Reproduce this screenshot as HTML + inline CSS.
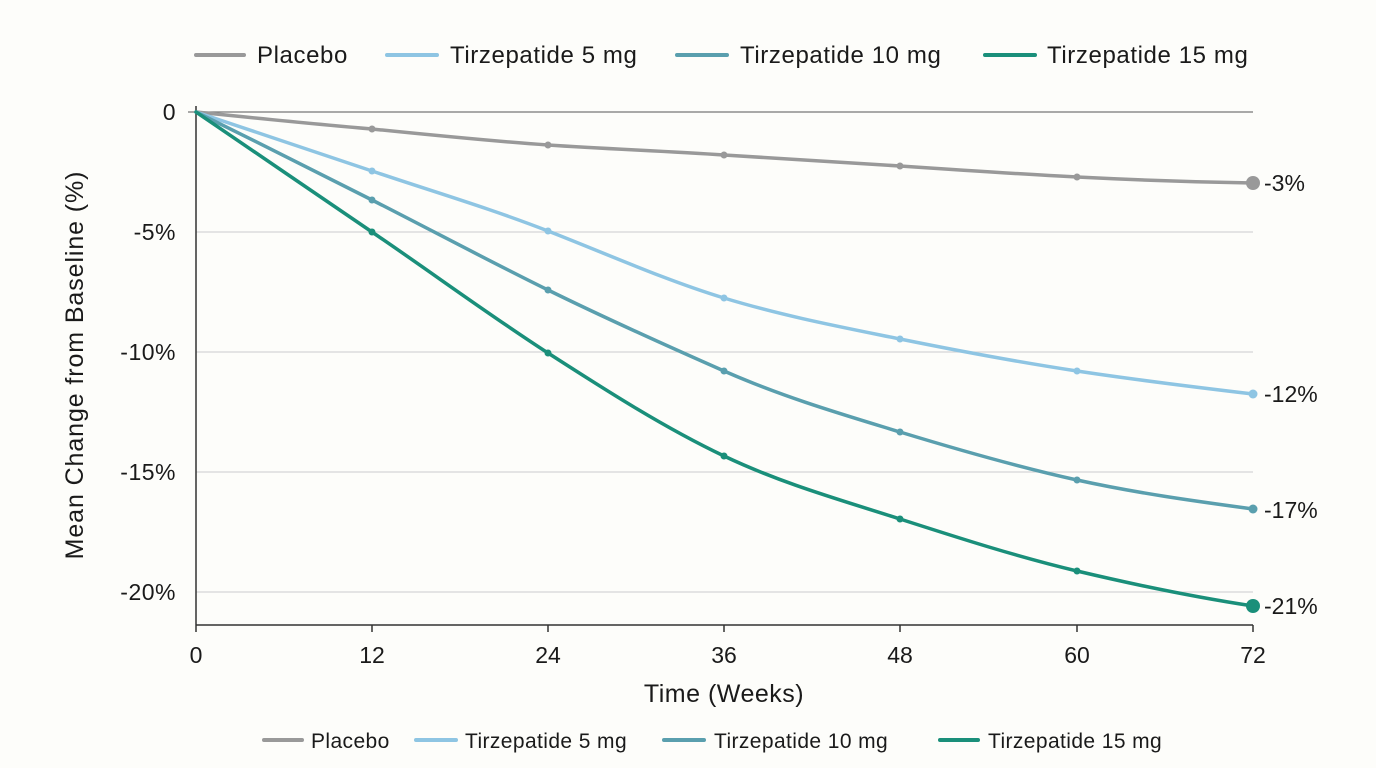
<!DOCTYPE html>
<html><head><meta charset="utf-8"><style>
html,body{margin:0;padding:0;background:#fdfdfa;}
svg{display:block;font-family:"Liberation Sans",sans-serif;}
</style></head><body>
<svg width="1376" height="768" viewBox="0 0 1376 768">
<rect width="1376" height="768" fill="#fdfdfa"/>
<g font-size="24" fill="#1a1a1a" letter-spacing="0.6">
<line x1="196" y1="55" x2="244" y2="55" stroke="#999" stroke-width="4" stroke-linecap="round"/><text x="257" y="63">Placebo</text>
<line x1="387" y1="55" x2="437" y2="55" stroke="#8ec5e3" stroke-width="4" stroke-linecap="round"/><text x="450" y="63">Tirzepatide 5 mg</text>
<line x1="677" y1="55" x2="727" y2="55" stroke="#5a9fae" stroke-width="4" stroke-linecap="round"/><text x="740" y="63">Tirzepatide 10 mg</text>
<line x1="985" y1="55" x2="1035" y2="55" stroke="#1a8f7a" stroke-width="4" stroke-linecap="round"/><text x="1047" y="63">Tirzepatide 15 mg</text>
</g>
<g stroke="#d6d6d6" stroke-width="1.2">
<line x1="196" y1="232" x2="1253" y2="232"/><line x1="196" y1="352" x2="1253" y2="352"/>
<line x1="196" y1="472" x2="1253" y2="472"/><line x1="196" y1="592" x2="1253" y2="592"/>
</g>
<line x1="188" y1="112" x2="1253" y2="112" stroke="#777" stroke-width="1.3"/>
<line x1="196" y1="106" x2="196" y2="625" stroke="#333" stroke-width="1.5"/>
<line x1="196" y1="625" x2="1253" y2="625" stroke="#333" stroke-width="1.5"/>
<g stroke="#333" stroke-width="1.5">
<line x1="196" y1="625" x2="196" y2="632"/><line x1="372" y1="625" x2="372" y2="632"/><line x1="548" y1="625" x2="548" y2="632"/><line x1="724" y1="625" x2="724" y2="632"/><line x1="900" y1="625" x2="900" y2="632"/><line x1="1077" y1="625" x2="1077" y2="632"/><line x1="1253" y1="625" x2="1253" y2="632"/>
</g>
<g font-size="23" fill="#1a1a1a" text-anchor="end" letter-spacing="0.5">
<text x="176" y="120">0</text><text x="176" y="240">-5%</text><text x="176" y="360">-10%</text><text x="176" y="480">-15%</text><text x="176" y="600">-20%</text>
</g>
<g font-size="23" fill="#1a1a1a" text-anchor="middle">
<text x="196" y="663">0</text><text x="372" y="663">12</text><text x="548" y="663">24</text><text x="724" y="663">36</text><text x="900" y="663">48</text><text x="1077" y="663">60</text><text x="1253" y="663">72</text>
<text x="724" y="702" font-size="25" letter-spacing="0.5">Time (Weeks)</text>
<text transform="translate(83,365) rotate(-90)" font-size="25" letter-spacing="0.9">Mean Change from Baseline (%)</text>
</g>
<g fill="none" stroke-width="3.5" stroke-linejoin="round" stroke-linecap="round">
<path stroke="#999" d="M196,112 C255,118 313,124 372,129 C431,135 489,141 548,145 C607,149 665,151 724,155 C783,159 841,162 900,166 C959,170 1018,174 1077,177 C1136,180 1194,182 1253,183"/>
<path stroke="#8ec5e3" d="M196,112 C255,132 313,151 372,171 C431,191 489,208 548,231 C607,254 665,280 724,298 C783,316 841,327 900,339 C959,351 1018,362 1077,371 C1136,380 1194,387 1253,394"/>
<path stroke="#5a9fae" d="M196,112 C255,141 313,170 372,200 C431,230 489,261 548,290 C607,319 665,345 724,371 C783,397 841,414 900,432 C959,450 1018,467 1077,480 C1136,493 1194,501 1253,509"/>
<path stroke="#1a8f7a" d="M196,112 C255,152 313,192 372,232 C431,272 489,315 548,353 C607,391 665,428 724,456 C783,484 841,500 900,519 C959,538 1018,557 1077,571 C1136,585 1194,597 1253,606"/>
</g>
<g fill="#999"><circle cx="372" cy="129" r="3.5"/><circle cx="548" cy="145" r="3.5"/><circle cx="724" cy="155" r="3.5"/><circle cx="900" cy="166" r="3.5"/><circle cx="1077" cy="177" r="3.5"/><circle cx="1253" cy="183" r="7"/></g>
<g fill="#8ec5e3"><circle cx="372" cy="171" r="3.5"/><circle cx="548" cy="231" r="3.5"/><circle cx="724" cy="298" r="3.5"/><circle cx="900" cy="339" r="3.5"/><circle cx="1077" cy="371" r="3.5"/><circle cx="1253" cy="394" r="4.5"/></g>
<g fill="#5a9fae"><circle cx="372" cy="200" r="3.5"/><circle cx="548" cy="290" r="3.5"/><circle cx="724" cy="371" r="3.5"/><circle cx="900" cy="432" r="3.5"/><circle cx="1077" cy="480" r="3.5"/><circle cx="1253" cy="509" r="4.5"/></g>
<g fill="#1a8f7a"><circle cx="372" cy="232" r="3.5"/><circle cx="548" cy="353" r="3.5"/><circle cx="724" cy="456" r="3.5"/><circle cx="900" cy="519" r="3.5"/><circle cx="1077" cy="571" r="3.5"/><circle cx="1253" cy="606" r="7"/></g>
<g font-size="23" fill="#1a1a1a">
<text x="1264" y="191">-3%</text><text x="1264" y="402">-12%</text><text x="1264" y="518">-17%</text><text x="1264" y="614">-21%</text>
</g>
<g font-size="21" fill="#1a1a1a" letter-spacing="0.4">
<line x1="264" y1="740" x2="302" y2="740" stroke="#999" stroke-width="4" stroke-linecap="round"/><text x="311" y="748">Placebo</text>
<line x1="416" y1="740" x2="456" y2="740" stroke="#8ec5e3" stroke-width="4" stroke-linecap="round"/><text x="465" y="748">Tirzepatide 5 mg</text>
<line x1="664" y1="740" x2="704" y2="740" stroke="#5a9fae" stroke-width="4" stroke-linecap="round"/><text x="714" y="748">Tirzepatide 10 mg</text>
<line x1="940" y1="740" x2="978" y2="740" stroke="#1a8f7a" stroke-width="4" stroke-linecap="round"/><text x="988" y="748">Tirzepatide 15 mg</text>
</g>
</svg>
</body></html>
